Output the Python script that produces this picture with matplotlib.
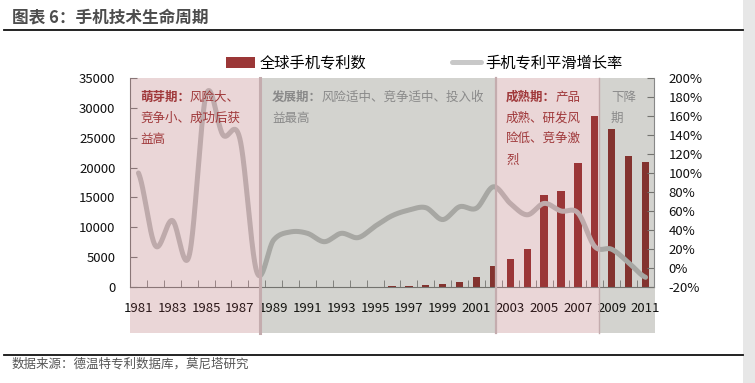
import numpy as np
import matplotlib
matplotlib.use('Agg')
import matplotlib.pyplot as plt
from matplotlib.patches import Rectangle
from matplotlib.lines import Line2D
import matplotlib.transforms as mtransforms

plt.rcParams['font.family'] = ['Noto Sans CJK SC', 'DejaVu Sans']

# ---------------- data ----------------
years = list(range(1981, 2012))
patents = [5, 7, 9, 10, 14, 20, 26, 25, 28, 32, 36, 40, 45, 50,
           70, 110, 180, 310, 560, 900, 1750, 3500, 4700, 6400,
           15400, 16100, 20800, 28700, 26500, 22000, 20900]
growth = [100, 23.5, 50, 13, 182, 140, 136, -4, 29.5, 38, 36.5, 27.7, 36.5, 32,
          44, 55, 61, 63.5, 51, 64.5, 63, 85.5, 68, 56, 68, 60, 58, 22.5, 19.7, 5.6, -9.8]
tick_years = years[::2]
left_ticks = list(range(0, 35001, 5000))
right_ticks = list(range(-20, 201, 20))

title = "图表 6：手机技术生命周期"
source = "数据来源：德温特专利数据库，莫尼塔研究"
bar_label = "全球手机专利数"
line_label = "手机专利平滑增长率"

# phases: boundaries in category index units
phase_bounds = [-0.5, 7.19, 21.13, 27.25, 30.55]
phase_kinds = ['pink', 'gray', 'pink', 'gray']
phase_texts = [
    [("萌芽期：", "风险大、"), ("", "竞争小、成功后获"), ("", "益高")],
    [("发展期：", "风险适中、竞争适中、投入收"), ("", "益最高")],
    [("成熟期：", "产品"), ("", "成熟、研发风"), ("", "险低、竞争激"), ("", "烈")],
    [("", "下降"), ("", "期")],
]

# ---------------- style ----------------
W, H = 755, 383
def fx(px): return px / W
def fy(py): return 1 - py / H

BAR_C = '#9b3737'
LINE_C = '#c8c8c8'
ALPHA = 0.2
pink_bg = np.array([234, 214, 215]) / 255.
gray_bg = np.array([211, 211, 207]) / 255.
def overlay(bg):
    c = 1 - (1 - bg) / ALPHA
    return tuple(np.clip(c, 0, 1))
ov_colors = {'pink': overlay(pink_bg), 'gray': overlay(gray_bg)}
text_colors = {'pink': '#a0393b', 'gray': '#8a8a8a'}
AX_C = '#888888'

fig = plt.figure(figsize=(7.55, 3.83), dpi=100)

# right page strip
fig.patches.append(Rectangle((fx(743), 0), 1 - fx(743), 1, transform=fig.transFigure,
                             facecolor='#e7e7e7', edgecolor='none', zorder=0))

ax = fig.add_axes([fx(130), fy(287), fx(654) - fx(130), fy(78) - fy(287)])
ax.patch.set_visible(False)
x = np.arange(len(years))
bars = ax.bar(x, patents, width=0.43, color=BAR_C, zorder=1, label=bar_label)
ax.set_xlim(-0.5, len(years) - 0.5)
ax.set_ylim(0, 35000)
ax.set_yticks(left_ticks)
ax.set_yticklabels([str(v) for v in left_ticks])
ax.set_xticks(x[::2])
ax.set_xticklabels([str(y) for y in tick_years])
ax.set_xticks(np.arange(0.5, len(years) - 1, 1), minor=True)
ax.tick_params(axis='x', which='major', length=0, pad=11, labelsize=9.5, labelcolor='#111')
ax.tick_params(axis='x', which='minor', direction='in', length=5, color=AX_C)
ax.tick_params(axis='y', direction='in', length=5, color=AX_C, pad=10.5, labelsize=9.5,
               labelcolor='#111')
for s in ['top', 'right']:
    ax.spines[s].set_visible(False)
for s in ['left', 'bottom']:
    ax.spines[s].set_color(AX_C)

ax2 = ax.twinx()
ax2.set_ylim(-20, 200)
ax2.set_yticks(right_ticks)
ax2.set_yticklabels([f"{v}%" for v in right_ticks])
ax2.tick_params(axis='y', direction='in', length=5, color=AX_C, pad=10.5, labelsize=9.5,
                labelcolor='#111')
for s in ['top', 'left', 'bottom']:
    ax2.spines[s].set_visible(False)
ax2.spines['right'].set_color(AX_C)

# smoothed line (Excel-like cubic Hermite through data points)
def smooth(ys, n=40):
    ys = np.asarray(ys, float)
    m = np.empty_like(ys)
    m[1:-1] = (ys[2:] - ys[:-2]) / 2
    m[0] = (ys[1] - ys[0]) / 2
    m[-1] = (ys[-1] - ys[-2]) / 2
    xs_out, ys_out = [], []
    t = np.linspace(0, 1, n, endpoint=False)
    h00 = 2*t**3 - 3*t**2 + 1
    h10 = t**3 - 2*t**2 + t
    h01 = -2*t**3 + 3*t**2
    h11 = t**3 - t**2
    for i in range(len(ys) - 1):
        xs_out.append(i + t)
        ys_out.append(h00*ys[i] + h10*m[i] + h01*ys[i+1] + h11*m[i+1])
    xs_out.append([len(ys) - 1]); ys_out.append([ys[-1]])
    return np.concatenate(xs_out), np.concatenate(ys_out)

sx, sy = smooth(growth)
line, = ax2.plot(sx, sy, color=LINE_C, lw=3.6, solid_capstyle='round', zorder=1,
                 label=line_label)

# phase shading (semi-transparent, over bars and line)
blend = mtransforms.blended_transform_factory(ax2.transData, fig.transFigure)
y0, y1 = fy(333), fy(78)
for i, kind in enumerate(phase_kinds):
    a, b = phase_bounds[i], phase_bounds[i + 1]
    r = Rectangle((a, y0), b - a, y1 - y0, transform=blend, facecolor=ov_colors[kind],
                  alpha=ALPHA, edgecolor='none', zorder=2, clip_on=False)
    ax2.add_patch(r)
for b, lw in zip(phase_bounds[1:-1], [2.2, 1.6, 1.0]):
    ax2.add_line(Line2D([b, b], [y0, y1], transform=blend, color='#c4acae', lw=lw,
                        zorder=2.1, clip_on=False))

# phase annotations
text_x = [140, 272, 506, 611]
for kind, px, lines in zip(phase_kinds, text_x, phase_texts):
    for j, (bold, rest) in enumerate(lines):
        py = 97.5 + 21 * j
        if bold:
            t = fig.text(fx(px), fy(py), bold, fontsize=9, fontweight='bold',
                         color=text_colors[kind], va='center', ha='left', zorder=5)
            ax2.annotate(rest, xy=(1, 0.5), xycoords=t, va='center', ha='left',
                         fontsize=9, color=text_colors[kind], annotation_clip=False, zorder=5)
        else:
            fig.text(fx(px), fy(py), rest, fontsize=9, color=text_colors[kind],
                     va='center', ha='left', zorder=5)

# legend
fig.legend(handles=[bars, line], labels=[bar_label, line_label], loc='center',
           bbox_to_anchor=(fx(424), fy(63)), ncol=2, frameon=False, fontsize=11,
           handlelength=1.9, handletextpad=0.3, columnspacing=5.6)

# title, rules, source
fig.text(fx(12), fy(17), title, fontsize=12, fontweight='bold', color='#4d4d4d',
         va='center', ha='left')
fig.lines.append(Line2D([fx(4), fx(743)], [fy(29.5), fy(29.5)], transform=fig.transFigure,
                        color='#111111', lw=1.3))
fig.lines.append(Line2D([fx(4), fx(743)], [fy(355), fy(355)], transform=fig.transFigure,
                        color='#111111', lw=1.3))
fig.text(fx(12), fy(364), source, fontsize=9, color='#555555', va='center', ha='left')

fig.savefig('out.png', dpi=100)
